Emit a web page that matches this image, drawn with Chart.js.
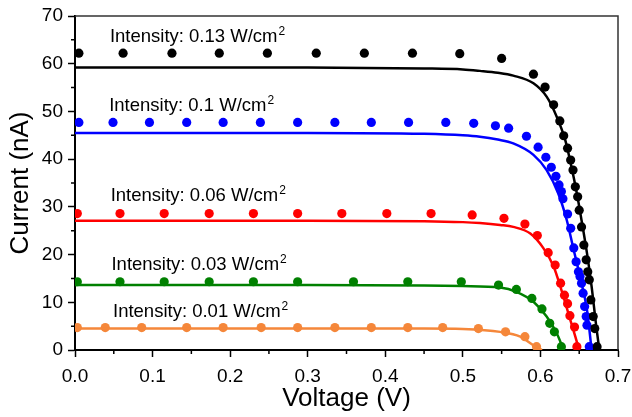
<!DOCTYPE html>
<html>
<head>
<meta charset="utf-8">
<script src="https://cdn.jsdelivr.net/npm/chart.js@4.4.1/dist/chart.umd.min.js"></script>
<style>
  html, body { margin: 0; padding: 0; background: #fff; }
  #wrap { width: 632px; height: 417px; position: relative; }
</style>
</head>
<body>
<div id="wrap"><canvas id="ivChart"></canvas></div>
<script>
const intensities = ['0.13', '0.1', '0.06', '0.03', '0.01'];
const seriesColors = ['#000000', '#0000ff', '#ff0000', '#008000', '#f5873a'];

// measured points (dots)
const measV013 = [0.005, 0.062, 0.125, 0.186, 0.248, 0.311, 0.373, 0.435, 0.496, 0.550, 0.591, 0.606, 0.617, 0.625, 0.630, 0.635, 0.639, 0.642, 0.645, 0.648, 0.650, 0.653, 0.656, 0.659, 0.661, 0.663, 0.665, 0.668, 0.670, 0.673];
const measI013 = [62.2, 62.2, 62.2, 62.2, 62.2, 62.2, 62.2, 62.2, 62.1, 61.1, 57.8, 55.1, 51.4, 48.0, 44.9, 42.3, 39.8, 37.7, 34.2, 32.1, 29.3, 25.8, 22.0, 18.9, 16.4, 14.7, 10.5, 7.0, 4.5, 0.7];

const measV010 = [0.005, 0.049, 0.096, 0.144, 0.191, 0.239, 0.287, 0.335, 0.382, 0.430, 0.478, 0.514, 0.542, 0.559, 0.582, 0.597, 0.607, 0.614, 0.620, 0.624, 0.627, 0.629, 0.635, 0.639, 0.643, 0.646, 0.649, 0.651, 0.653, 0.655, 0.657, 0.659, 0.660, 0.663];
const measI010 = [47.7, 47.7, 47.7, 47.7, 47.7, 47.7, 47.7, 47.7, 47.7, 47.7, 47.7, 47.5, 47.0, 46.5, 44.8, 42.5, 40.4, 38.3, 36.4, 34.6, 33.2, 31.7, 28.5, 25.5, 21.4, 18.5, 16.4, 15.4, 14.0, 11.9, 9.1, 7.0, 5.2, 0.7];

const measV006 = [0.003, 0.058, 0.115, 0.173, 0.230, 0.287, 0.344, 0.402, 0.459, 0.512, 0.553, 0.580, 0.596, 0.610, 0.619, 0.626, 0.631, 0.635, 0.638, 0.644, 0.647];
const measI006 = [28.6, 28.6, 28.6, 28.6, 28.6, 28.6, 28.6, 28.6, 28.6, 28.3, 27.6, 26.4, 24.0, 20.4, 17.8, 14.0, 11.5, 9.7, 7.2, 4.8, 0.7];

const measV003 = [0.003, 0.058, 0.115, 0.173, 0.230, 0.287, 0.359, 0.429, 0.498, 0.546, 0.569, 0.589, 0.602, 0.612, 0.618, 0.627];
const measI003 = [14.3, 14.3, 14.3, 14.3, 14.3, 14.3, 14.3, 14.3, 14.3, 13.6, 12.7, 10.8, 8.6, 5.6, 3.8, 0.7];

const measV001 = [0.003, 0.039, 0.086, 0.144, 0.191, 0.240, 0.287, 0.335, 0.382, 0.429, 0.474, 0.520, 0.555, 0.580, 0.595];
const measI001 = [4.7, 4.7, 4.7, 4.7, 4.7, 4.7, 4.7, 4.7, 4.7, 4.7, 4.7, 4.5, 3.8, 2.8, 0.7];

// fitted curves (solid lines)
const fitV013 = [0, 0.3, 0.45, 0.5, 0.522, 0.545, 0.565, 0.591, 0.608, 0.621, 0.632, 0.640, 0.647, 0.653, 0.660, 0.666, 0.672, 0.676];
const fitI013 = [59.2, 59.2, 59.0, 58.8, 58.5, 58.1, 57.5, 55.9, 53.1, 48.9, 44.0, 38.4, 32.8, 27.2, 20.3, 13.3, 4.9, 0];

const fitV010 = [0, 0.3, 0.45, 0.5, 0.522, 0.545, 0.565, 0.591, 0.608, 0.623, 0.634, 0.642, 0.651, 0.660, 0.666];
const fitI010 = [45.5, 45.5, 45.3, 45.0, 44.7, 44.1, 43.3, 40.9, 37.7, 32.8, 27.2, 21.6, 15.4, 8.4, 0];

const fitV006 = [0, 0.3, 0.45, 0.5, 0.522, 0.548, 0.565, 0.587, 0.604, 0.617, 0.627, 0.636, 0.645, 0.650];
const fitI006 = [27.1, 27.1, 27.0, 26.8, 26.6, 26.2, 25.8, 24.4, 21.3, 17.5, 12.6, 7.7, 2.8, 0];

const fitV003 = [0, 0.3, 0.45, 0.5, 0.548, 0.569, 0.591, 0.608, 0.621, 0.630];
const fitI003 = [13.6, 13.6, 13.5, 13.4, 13.1, 12.2, 10.1, 7.0, 3.5, 0];

const fitV001 = [0, 0.3, 0.45, 0.5, 0.548, 0.574, 0.591, 0.602];
const fitI001 = [4.5, 4.5, 4.5, 4.4, 3.8, 2.8, 1.0, 0];

const measSets = [[measV013, measI013], [measV010, measI010], [measV006, measI006], [measV003, measI003], [measV001, measI001]];
const fitSets = [[fitV013, fitI013], [fitV010, fitI010], [fitV006, fitI006], [fitV003, fitI003], [fitV001, fitI001]];

const FONT = '"Liberation Sans", Arial, sans-serif';

function toPoints(xs, ys) {
    return xs.map((x, i) => ({ x: x, y: ys[i] }));
}

// label anchors in data units (left/baseline of text)
const labelAnchors = [
    { x: 0.045, y: 64.6 },
    { x: 0.044, y: 50.1 },
    { x: 0.046, y: 31.2 },
    { x: 0.047, y: 16.8 },
    { x: 0.049, y: 7.0 }
];

const decorPlugin = {
    id: 'decor',
    afterDraw(chart) {
        const { ctx, chartArea: a, scales: { x, y } } = chart;
        ctx.save();

        // top + right frame
        ctx.strokeStyle = '#333';
        ctx.lineWidth = 1.5;
        ctx.beginPath();
        ctx.moveTo(a.left, a.top);
        ctx.lineTo(a.right, a.top);
        ctx.lineTo(a.right, a.bottom);
        ctx.stroke();

        // minor ticks halfway between majors
        ctx.strokeStyle = '#000';
        ctx.lineWidth = 1.5;
        ctx.beginPath();
        for (let i = 0; i < x.ticks.length - 1; i++) {
            const mx = x.getPixelForValue((x.ticks[i].value + x.ticks[i + 1].value) / 2);
            ctx.moveTo(mx, a.bottom);
            ctx.lineTo(mx, a.bottom + 4);
        }
        for (let i = 0; i < y.ticks.length - 1; i++) {
            const my = y.getPixelForValue((y.ticks[i].value + y.ticks[i + 1].value) / 2);
            ctx.moveTo(a.left, my);
            ctx.lineTo(a.left - 4, my);
        }
        ctx.stroke();

        // intensity labels with superscript
        ctx.fillStyle = '#000';
        ctx.textBaseline = 'alphabetic';
        ctx.textAlign = 'left';
        intensities.forEach((val, i) => {
            const px = x.getPixelForValue(labelAnchors[i].x);
            const py = y.getPixelForValue(labelAnchors[i].y);
            const txt = 'Intensity: ' + val + ' W/cm';
            ctx.font = '18.5px ' + FONT;
            ctx.fillText(txt, px, py);
            const w = ctx.measureText(txt).width;
            ctx.font = '12px ' + FONT;
            ctx.fillText('2', px + w + 1, py - 7);
        });

        ctx.restore();
    }
};

const datasets = [];
fitSets.forEach((s, i) => {
    datasets.push({
        data: toPoints(s[0], s[1]),
        showLine: true,
        borderColor: seriesColors[i],
        borderWidth: 2.5,
        pointRadius: 0,
        cubicInterpolationMode: 'monotone',
        order: 0
    });
});
measSets.forEach((s, i) => {
    datasets.push({
        data: toPoints(s[0], s[1]),
        showLine: false,
        pointRadius: 4.6,
        pointBackgroundColor: seriesColors[i],
        pointBorderWidth: 0,
        order: 1
    });
});

new Chart(document.getElementById('ivChart').getContext('2d'), {
    type: 'scatter',
    data: { datasets: datasets },
    options: {
        responsive: true,
        maintainAspectRatio: false,
        animation: false,
        layout: { padding: { top: 16, right: 14, left: 0, bottom: 0 } },
        plugins: { legend: { display: false }, tooltip: { enabled: false } },
        scales: {
            x: {
                type: 'linear',
                min: 0,
                max: 0.7,
                afterFit: s => { s.height = 67; s.paddingLeft = 0; s.paddingRight = 0; },
                ticks: {
                    stepSize: 0.1,
                    color: '#000',
                    padding: 8,
                    font: { family: FONT, size: 19 },
                    callback: v => Number(v).toFixed(1)
                },
                grid: { drawOnChartArea: false, drawTicks: true, tickLength: 7, tickColor: '#000', tickWidth: 1.5 },
                border: { color: '#000', width: 2 },
                title: {
                    display: true,
                    text: 'Voltage (V)',
                    color: '#000',
                    font: { family: FONT, size: 26 },
                    padding: { top: 0, bottom: 3 }
                }
            },
            y: {
                type: 'linear',
                min: 0,
                max: 70,
                afterFit: s => { s.width = 75; s.paddingTop = 0; s.paddingBottom = 0; },
                ticks: {
                    stepSize: 10,
                    color: '#000',
                    padding: 5,
                    font: { family: FONT, size: 19 }
                },
                grid: { drawOnChartArea: false, drawTicks: true, tickLength: 7, tickColor: '#000', tickWidth: 1.5 },
                border: { color: '#000', width: 2 },
                title: {
                    display: true,
                    text: 'Current (nA)',
                    color: '#000',
                    font: { family: FONT, size: 26 },
                    padding: { top: 5, bottom: 0 }
                }
            }
        }
    },
    plugins: [decorPlugin]
});
</script>
</body>
</html>
